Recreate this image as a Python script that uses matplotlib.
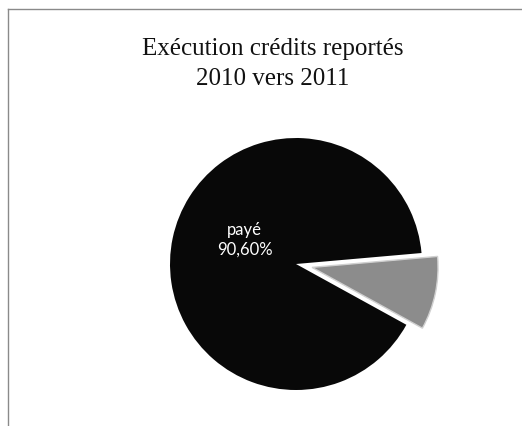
import numpy as np
import matplotlib
matplotlib.use("Agg")
import matplotlib.pyplot as plt
from matplotlib.lines import Line2D

labels = ["payé", "non payé"]
shares = [90.60, 9.40]
colors = ["#080808", "#8c8c8c"]
explode = [0.0, 0.13]

fig = plt.figure(figsize=(5.22, 4.26), dpi=100)
fig.patch.set_facecolor("white")

# thin frame of the chart area (only top and left edges visible)
fx, fy = 8 / 522, 1 - 8.5 / 426
fig.add_artist(Line2D([fx, 1.0], [fy, fy], transform=fig.transFigure,
                      color="#8a8a8a", linewidth=1.0))
fig.add_artist(Line2D([fx, fx], [0.0, fy], transform=fig.transFigure,
                      color="#8a8a8a", linewidth=1.0))

fig.text(0.523, 0.85, "Exécution crédits reportés\n2010 vers 2011",
         ha="center", va="center", fontsize=18, family="Liberation Serif",
         linespacing=1.45, color="#111111")

ax = fig.add_axes([(296 - 126) / 522, (426 - 264 - 126) / 426, 252 / 522, 252 / 426])
wedges, _ = ax.pie(shares, colors=colors, explode=explode, startangle=5,
                   counterclock=True, radius=1.0,
                   wedgeprops=dict(linewidth=0.0))
wedges[1].set_edgecolor("#d0d0d0")
wedges[1].set_linewidth(1.0)
ax.set_xlim(-1, 1)
ax.set_ylim(-1, 1)
ax.set_aspect("equal")
ax.axis("off")

ang = np.deg2rad(155)
ax.text(0.45 * np.cos(ang), 0.45 * np.sin(ang),
        f"{labels[0]}\n{shares[0]:.2f}%".replace(".", ","),
        ha="center", va="center", color="white", fontsize=12,
        family="Lato", linespacing=1.3)

fig.savefig("out.png", dpi=100)
